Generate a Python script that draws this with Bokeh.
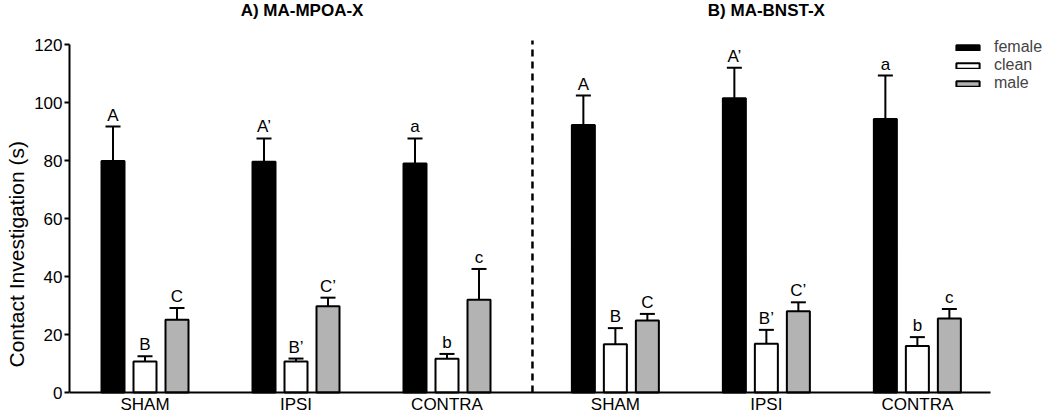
from bokeh.plotting import figure
from bokeh.models import (Range1d, FixedTicker, Whisker, TeeHead, ColumnDataSource,
                          Legend, LegendItem, Title)
from bokeh.core.properties import value
from bokeh.embed import file_html
from bokeh.resources import INLINE

# ---------------- data ----------------
panels = ["A) MA-MPOA-X", "B) MA-BNST-X"]
groups = ["SHAM", "IPSI", "CONTRA"]
series = ["female", "clean", "male"]

mpoa_female = [79.8, 79.6, 79.0]
mpoa_female_sem = [11.9, 8.0, 8.6]
mpoa_clean = [10.7, 10.7, 11.6]
mpoa_clean_sem = [1.8, 1.0, 1.7]
mpoa_male = [25.1, 29.7, 32.0]
mpoa_male_sem = [4.0, 3.0, 10.6]

bnst_female = [92.2, 101.5, 94.3]
bnst_female_sem = [10.2, 10.5, 15.0]
bnst_clean = [16.6, 16.8, 16.0]
bnst_clean_sem = [5.6, 4.8, 3.1]
bnst_male = [24.8, 28.0, 25.5]
bnst_male_sem = [2.3, 3.1, 3.3]

female_letters = ["A", "A\u2019", "a", "A", "A\u2019", "a"]
clean_letters = ["B", "B\u2019", "b", "B", "B\u2019", "b"]
male_letters = ["C", "C\u2019", "c", "C", "C\u2019", "c"]

y_ticks = [0, 20, 40, 60, 80, 100, 120]
y_label = "Contact Investigation (s)"

# ---------------- layout ----------------
FONT = "Liberation Sans"
W, H = 1050, 414
LEFT = 69
PX_PER_UNIT = 151.0
FRAME_W = W - LEFT
FRAME_H = H
AXIS_PX = 392          # screen y of value 0
TOP_PX = 44            # screen y of value 120
PX_PER_Y = (AXIS_PX - TOP_PX) / 120.0
Y_START = -(FRAME_H - AXIS_PX) / PX_PER_Y
Y_END = 120 + TOP_PX / PX_PER_Y
PANEL_GAP = 0.115
OFFSET = 32 / PX_PER_UNIT
BAR_W = 23 / PX_PER_UNIT

n_g = len(groups)
centers = [pi * n_g + i + 0.5 + PANEL_GAP * pi for pi in range(len(panels)) for i in range(n_g)]
labels_x = [g for _ in panels for g in groups]
divider_x = 3.066
axis_end = 6.1

p = figure(width=W, height=H, output_backend="svg", toolbar_location=None,
           x_range=Range1d(0, FRAME_W / PX_PER_UNIT), y_range=Range1d(Y_START, Y_END),
           min_border_left=LEFT, min_border_right=0, min_border_top=0, min_border_bottom=0)
p.outline_line_color = None
p.xgrid.visible = False
p.ygrid.visible = False
p.background_fill_color = "white"
p.border_fill_color = "white"

fills = {"female": "#000000", "clean": "#ffffff", "male": "#b3b3b3"}
data = {
    "female": (mpoa_female + bnst_female, mpoa_female_sem + bnst_female_sem, female_letters, -OFFSET),
    "clean": (mpoa_clean + bnst_clean, mpoa_clean_sem + bnst_clean_sem, clean_letters, 0.0),
    "male": (mpoa_male + bnst_male, mpoa_male_sem + bnst_male_sem, male_letters, OFFSET),
}

renderers = {}
for s in series:
    means, sems, letters, off = data[s]
    src = ColumnDataSource(dict(
        x=[c + off for c in centers],
        mean=means,
        upper=[m + e for m, e in zip(means, sems)],
        letter=letters,
    ))
    r = p.vbar(x="x", top="mean", width=BAR_W, bottom=0, source=src,
               fill_color=fills[s], line_color="black", line_width=2)
    renderers[s] = r
    w = Whisker(source=src, base="x", lower="mean", upper="upper", dimension="height",
                line_color="black", line_width=2,
                upper_head=TeeHead(size=15, line_width=2, line_color="black"),
                lower_head=None)
    p.add_layout(w)
    p.text(x="x", y="upper", text="letter", source=src, text_align="center",
           text_baseline="bottom", y_offset=-2, text_font=value(FONT),
           text_font_size="17px", text_color="black")

# divider
p.segment(x0=[divider_x], y0=[0], x1=[divider_x], y1=[121.4], line_color="black",
          line_width=2.5, line_dash="7 5")

# panel titles
p.text(x=[centers[1] + 0.04, centers[4]], y=[Y_END, Y_END], text=panels, text_align="center",
       text_baseline="top", y_offset=0, text_font=value(FONT), text_font_style="bold",
       text_font_size="17px", text_color="black")

# axes
xa = p.xaxis[0]
xa.fixed_location = 0
xa.ticker = FixedTicker(ticks=centers)
xa.major_label_overrides = {c: g for c, g in zip(centers, labels_x)}
xa.bounds = (0, axis_end)
xa.axis_label = None
xa.axis_line_width = 2
xa.axis_line_color = "black"
xa.major_tick_out = 0
xa.major_tick_in = 0
xa.minor_tick_out = 0
xa.minor_tick_in = 0
xa.major_label_standoff = 2
xa.major_label_text_font = FONT
xa.major_label_text_font_size = "17px"
xa.major_label_text_color = "black"

ya = p.yaxis[0]
ya.ticker = FixedTicker(ticks=y_ticks)
ya.bounds = (0, 120)
ya.axis_line_width = 2
ya.axis_line_color = "black"
ya.major_tick_line_width = 2
ya.major_tick_out = 5
ya.major_tick_in = 0
ya.minor_tick_out = 0
ya.minor_tick_in = 0
ya.major_label_standoff = 2
ya.major_label_text_font = FONT
ya.major_label_text_font_size = "17px"
ya.major_label_text_color = "black"
ya.axis_label = None

ytitle = Title(text=y_label, align="left", offset=47, standoff=3, vertical_align="top",
               text_font=FONT, text_font_style="normal", text_font_size="21px",
               text_color="black")
p.add_layout(ytitle, "left")

legend = Legend(items=[LegendItem(label=s, renderers=[renderers[s]]) for s in series],
                location=(884, 322), glyph_width=29, glyph_height=7, label_height=12,
                spacing=0, padding=0, margin=0, label_standoff=12,
                label_text_font=FONT, label_text_font_size="16px",
                label_text_line_height=0.9,
                border_line_color=None, background_fill_alpha=0)
p.add_layout(legend)

open("out.html", "w").write(file_html(p, INLINE))
